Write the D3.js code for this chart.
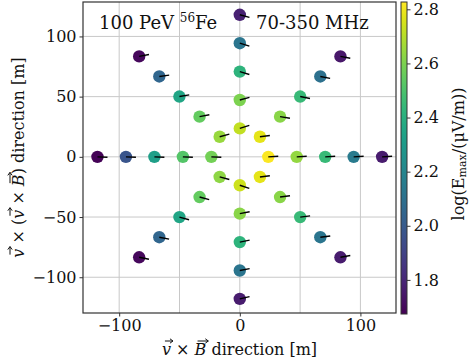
<!DOCTYPE html>
<html>
<head>
<meta charset="utf-8">
<script src="https://cdn.jsdelivr.net/npm/d3@7"></script>
<style>
  body { margin: 0; background: #fff; }
  svg text { font-family: "DejaVu Serif", serif; fill: #111; }
</style>
</head>
<body>
<div id="chart"></div>
<script>
"use strict";

// star pattern: 8 arms (degrees from +x), 5 rings each (metres)
const armAngles = [0, 45, 90, 135, 180, 225, 270, 315];
const ringRadii = [23.6, 47.2, 70.8, 94.4, 118];

// log(Emax) per arm, inner ring -> outer ring
const logEmax = [
    [2.82, 2.64, 2.45, 2.15, 1.76],   // 0
    [2.78, 2.62, 2.45, 2.10, 1.75],   // 45
    [2.72, 2.60, 2.42, 2.12, 1.78],   // 90
    [2.65, 2.55, 2.35, 2.05, 1.70],   // 135
    [2.58, 2.52, 2.32, 1.98, 1.68],   // 180
    [2.63, 2.55, 2.35, 2.05, 1.70],   // 225
    [2.74, 2.62, 2.42, 2.12, 1.76],   // 270
    [2.78, 2.62, 2.45, 2.12, 1.76]    // 315
];

// polarisation direction (degrees, counter-clockwise from +x)
const polAngle = [
    [3, 3, 3, 3, 3],
    [7, -9, -11, -11, -11],
    [18, 15, -17, -17, -15],
    [15, 11, 10, 8, 11],
    [-2, -2, -2, -2, -2],
    [-15, -15, -15, -11, -11],
    [-18, 11, 11, 11, 13],
    [7, 7, 7, 7, 10]
];

const axisTicks = [-100, 0, 100];
const gridTicks = [-100, -50, 0, 50, 100];
const colorTicks = [1.8, 2.0, 2.2, 2.4, 2.6, 2.8];
const colorDomain = [1.674, 2.827];

const W = 469, H = 362;
const plot = {left: 83, right: 396, top: 2, bottom: 313};

const svg = d3.select("#chart").append("svg")
    .attr("width", W).attr("height", H);

const x = d3.scaleLinear().domain([-130, 129.5]).range([plot.left, plot.right]);
const y = d3.scaleLinear().domain([-129.7, 128.6]).range([plot.bottom, plot.top]);
const color = d3.scaleSequential(d3.interpolateViridis).domain(colorDomain);

// grid
const grid = svg.append("g");
grid.selectAll(".gx").data(gridTicks).enter().append("line")
    .attr("x1", d => x(d)).attr("x2", d => x(d))
    .attr("y1", plot.top).attr("y2", plot.bottom)
    .attr("stroke", "#c8c8c8").attr("stroke-width", 1);
grid.selectAll(".gy").data(gridTicks).enter().append("line")
    .attr("y1", d => y(d)).attr("y2", d => y(d))
    .attr("x1", plot.left).attr("x2", plot.right)
    .attr("stroke", "#c8c8c8").attr("stroke-width", 1);

// points
let points = [];
armAngles.forEach(function (a, i) {
    ringRadii.forEach(function (r, j) {
        const rad = a * Math.PI / 180;
        points.push({
            px: r * Math.cos(rad),
            py: r * Math.sin(rad),
            v: logEmax[i][j],
            pol: polAngle[i][j]
        });
    });
});

svg.append("g").selectAll("circle").data(points).enter().append("circle")
    .attr("cx", d => x(d.px)).attr("cy", d => y(d.py))
    .attr("r", 6.2)
    .attr("fill", d => color(d.v));

const lineLen = 10;
svg.append("g").selectAll("line").data(points).enter().append("line")
    .attr("x1", d => x(d.px)).attr("y1", d => y(d.py))
    .attr("x2", d => x(d.px) + lineLen * Math.cos(d.pol * Math.PI / 180))
    .attr("y2", d => y(d.py) - lineLen * Math.sin(d.pol * Math.PI / 180))
    .attr("stroke", "#000").attr("stroke-width", 1.4);

// axes
const minus = d => d < 0 ? "\u2212" + Math.abs(d) : d;
const xAxis = d3.axisBottom(x).tickValues(axisTicks).tickSize(3.5).tickPadding(3).tickFormat(minus);
const gx = svg.append("g").attr("transform", `translate(0,${plot.bottom})`).call(xAxis);
const yAxis = d3.axisLeft(y).tickValues(gridTicks).tickSize(3.5).tickPadding(3).tickFormat(minus);
const gy = svg.append("g").attr("transform", `translate(${plot.left},0)`).call(yAxis);
[gx, gy].forEach(function (g) {
    g.select(".domain").remove();
    g.selectAll("text").style("font-size", "16px").style("font-family", "DejaVu Serif");
    g.selectAll("line").attr("stroke", "#333");
});

svg.append("rect")
    .attr("x", plot.left).attr("y", plot.top)
    .attr("width", plot.right - plot.left).attr("height", plot.bottom - plot.top)
    .attr("fill", "none").attr("stroke", "#333").attr("stroke-width", 1.2);

// annotations
svg.append("text").attr("x", 99).attr("y", 29).style("font-size", "18px")
    .call(t => {
        t.append("tspan").text("100 PeV ");
        t.append("tspan").attr("dy", -7).style("font-size", "12px").text("56");
        t.append("tspan").attr("dy", 7).text("Fe");
    });
svg.append("text").attr("x", 256).attr("y", 29).style("font-size", "18px").text("70-350 MHz");

// label with vector arrows drawn over chosen characters
function vecLabel(g, parts) {
    const t = g.append("text").attr("text-anchor", "middle").style("font-size", "16px");
    let idx = 0;
    const vecIdx = [];
    parts.forEach(function (p) {
        const s = t.append("tspan").text(p.s);
        if (p.it) s.style("font-style", "italic");
        if (p.vec) vecIdx.push(idx);
        idx += p.s.length;
    });
    const node = t.node();
    vecIdx.forEach(function (i) {
        const a = node.getStartPositionOfChar(i);
        const b = node.getEndPositionOfChar(i);
        const x0 = a.x + 3, x1 = b.x + 2, yy = a.y - 14;
        g.append("path")
            .attr("d", `M${x0},${yy}L${x1},${yy}M${x1 - 3},${yy - 2.2}L${x1},${yy}L${x1 - 3},${yy + 2.2}`)
            .attr("fill", "none").attr("stroke", "#111").attr("stroke-width", 1);
    });
}

const xl = svg.append("g").attr("transform", `translate(${(plot.left + plot.right) / 2},355)`);
vecLabel(xl, [
    {s: "v", it: true, vec: true}, {s: " \u00D7 "},
    {s: "B", it: true, vec: true}, {s: " direction [m]"}
]);

const yl = svg.append("g").attr("transform", `translate(24,${(plot.top + plot.bottom) / 2}) rotate(-90)`);
vecLabel(yl, [
    {s: "v", it: true, vec: true}, {s: " \u00D7 ("},
    {s: "v", it: true, vec: true}, {s: " \u00D7 "},
    {s: "B", it: true, vec: true}, {s: ") direction [m]"}
]);

// colorbar
const cb = {left: 401, width: 6, top: 2, bottom: 314};
const cy = d3.scaleLinear().domain(colorDomain).range([cb.bottom, cb.top]);
const defs = svg.append("defs");
const grad = defs.append("linearGradient").attr("id", "cbgrad")
    .attr("x1", 0).attr("y1", 1).attr("x2", 0).attr("y2", 0);
d3.range(0, 1.0001, 0.05).forEach(function (t) {
    grad.append("stop").attr("offset", t).attr("stop-color", d3.interpolateViridis(t));
});
svg.append("rect").attr("x", cb.left).attr("y", cb.top)
    .attr("width", cb.width).attr("height", cb.bottom - cb.top)
    .attr("fill", "url(#cbgrad)").attr("stroke", "#333").attr("stroke-width", 1);
const cAxis = d3.axisRight(cy).tickValues(colorTicks).tickSize(3.5).tickPadding(3)
    .tickFormat(d3.format(".1f"));
const gc = svg.append("g").attr("transform", `translate(${cb.left + cb.width},0)`).call(cAxis);
gc.select(".domain").remove();
gc.selectAll("text").style("font-size", "16px").style("font-family", "DejaVu Serif");
gc.selectAll("line").attr("stroke", "#333");

svg.append("text")
    .attr("transform", `translate(459,${(cb.top + cb.bottom) / 2 - 4}) rotate(-90)`)
    .attr("text-anchor", "middle").attr("dominant-baseline", "middle").style("font-size", "16px")
    .call(t => {
        t.append("tspan").text("log(E");
        t.append("tspan").attr("dy", 4).style("font-size", "11px").text("max");
        t.append("tspan").attr("dy", -4).text("/(\u03BCV/m))");
    });
</script>
</body>
</html>
